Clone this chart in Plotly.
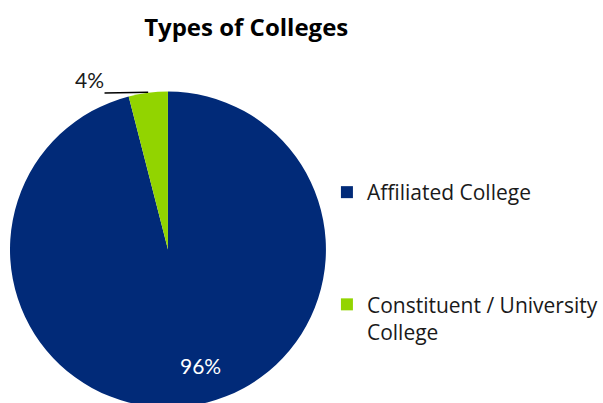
import math
import plotly.graph_objects as go

# ---- data ----
categories = ["Affiliated College", "Constituent / University College"]
values = [96, 4]
colors = ["#012a78", "#92d400"]
title_text = "Types of Colleges"

# ---- layout geometry ----
W, H = 603, 410
ML, MR, MT, MB = 10, 0, 91, 2
PW, PH = W - ML - MR, H - MT - MB
pie_px = PH  # pie diameter in px
dom_x = [0, pie_px / PW]

total = sum(values)
pct = [round(100 * v / total) for v in values]

# legend labels (extra line breaks to spread entries vertically)
legend_labels = [categories[0] + "<br> <br> <br> ", "Constituent / University<br>College"]


def to_paper(x_px, y_px):
    return (x_px - ML) / PW, 1 - (y_px - MT) / PH


fig = go.Figure(go.Pie(
    labels=legend_labels,
    values=values,
    marker=dict(colors=colors, line=dict(width=0)),
    sort=False,
    direction="clockwise",
    rotation=0,
    textinfo="none",
    domain=dict(x=dom_x, y=[0, 1]),
    hoverinfo="label+percent",
))

cx_px = ML + pie_px / 2
cy_px = MT + pie_px / 2
r_px = pie_px / 2

# label of the large slice (inside, lower part of the pie)
lx, ly = to_paper(cx_px + 0.205 * r_px, cy_px + 0.73 * r_px)
fig.add_annotation(
    x=lx, y=ly, xref="paper", yref="paper", text=f"{pct[0]}%", showarrow=False,
    xanchor="center", yanchor="middle",
    font=dict(family="Lato", size=21, color="white"),
)

# callout for small slice: point on the arc at slice mid-angle (derived from data)
start = 360 * values[0] / total
mid = math.radians(start + 360 * values[1] / total / 2)
px = cx_px + r_px * math.sin(mid)
py = cy_px - r_px * math.cos(mid)
hx, hy = to_paper(px, py)
fig.add_annotation(
    x=hx, y=hy, xref="paper", yref="paper",
    text=f"{pct[1]}%", showarrow=True, arrowhead=0, arrowwidth=1.6, arrowcolor="black",
    ax=105 - px, ay=93 - py, xanchor="right", yanchor="bottom", borderpad=0,
    font=dict(family="Lato", size=21, color="#1a1a1a"),
)

tx, _ = to_paper(247, 0)
lgx, lgy = to_paper(328, 172)
fig.update_layout(
    width=W, height=H,
    margin=dict(l=ML, r=MR, t=MT, b=MB),
    paper_bgcolor="white", plot_bgcolor="white",
    title=dict(text="<b>" + title_text + "</b>", x=tx, xref="paper", xanchor="center",
               y=1 - 28 / H, yref="container", yanchor="middle",
               font=dict(family="Open Sans", size=24, color="black")),
    legend=dict(x=lgx, xanchor="left", y=lgy, yanchor="top",
                valign="top", font=dict(family="Open Sans", size=21, color="#1a1a1a"),
                bgcolor="rgba(0,0,0,0)"),
    showlegend=True,
)

fig.write_html("out.html", config={"displayModeBar": False},
               post_script="document.body.style.margin='0';document.body.style.overflow='hidden';")
